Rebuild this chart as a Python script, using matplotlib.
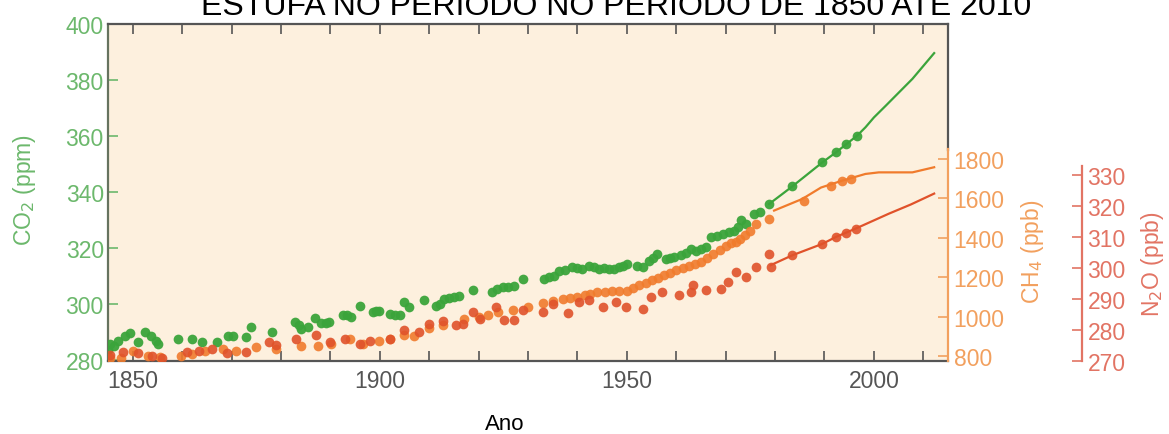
import numpy as np
import matplotlib.pyplot as plt
from matplotlib.ticker import MultipleLocator, FixedLocator

# CO2 (ppm) - early dots
co2_dot_year = [1845.0, 1845.5, 1846.2, 1847.0, 1848.4, 1849.4, 1851.1, 1852.4, 1853.8, 1854.8,
                1855.1, 1859.2, 1862.0, 1864.0, 1867.1, 1869.3, 1870.3, 1873.0, 1874.0, 1878.2,
                1882.9, 1883.6, 1884.1, 1885.4, 1886.9, 1888.2, 1889.2, 1889.8, 1892.5, 1893.3,
                1894.2, 1896.0, 1898.6, 1899.2, 1899.9, 1902.0, 1903.0, 1904.0, 1905.0, 1906.0,
                1909.0, 1911.4, 1912.2, 1913.1, 1914.1, 1915.1, 1916.1, 1918.8, 1922.8, 1923.8,
                1924.9, 1926.0, 1927.2, 1928.9, 1933.3, 1934.3, 1935.3, 1936.3, 1937.5, 1939.0,
                1940.0, 1941.0, 1942.4, 1943.4, 1944.4, 1945.4, 1946.4, 1947.4, 1948.5, 1949.3,
                1950.1, 1952.0, 1953.2, 1954.5, 1955.3, 1956.2, 1957.9, 1958.7, 1959.6, 1960.9,
                1961.9, 1963.0, 1964.0, 1965.0, 1966.0, 1967.0, 1968.2, 1969.4, 1970.7, 1971.7,
                1972.5, 1973.1, 1974.1, 1975.8, 1977.0, 1978.8, 1983.5, 1989.6, 1992.3, 1994.3,
                1996.6]
co2_dot_val = [283.5, 285.7, 285.0, 286.9, 288.7, 289.6, 286.3, 290.1, 288.4, 286.9,
               285.5, 287.5, 287.5, 286.5, 286.3, 288.7, 288.4, 288.1, 291.7, 290.1,
               293.4, 292.4, 291.1, 291.7, 294.9, 293.0, 293.2, 293.5, 296.1, 296.0,
               295.2, 299.2, 297.0, 297.3, 297.6, 296.4, 296.2, 296.1, 300.6, 298.8,
               301.5, 299.4, 300.0, 301.8, 302.0, 302.3, 302.7, 304.8, 304.4, 305.2,
               305.9, 306.1, 306.3, 308.9, 308.9, 309.5, 310.1, 311.9, 312.2, 313.1,
               312.8, 312.5, 313.7, 313.2, 312.5, 312.9, 312.5, 312.6, 313.1, 313.5,
               314.3, 313.5, 313.1, 315.5, 316.5, 317.9, 316.1, 316.5, 316.7, 317.3,
               318.3, 319.6, 319.0, 319.6, 320.2, 323.8, 324.3, 325.0, 325.6, 326.2,
               327.5, 330.1, 328.6, 332.1, 333.0, 335.7, 342.0, 350.6, 354.1, 357.1,
               360.1]
# CO2 continuous record
co2_line_year = [1978.8, 1981.5, 1983.5, 1986.2, 1989.6, 1992.3, 1996.6, 1998.3, 2000.0,
                 2002.4, 2005.1, 2007.8, 2012.2]
co2_line_val = [335.7, 339.3, 342.0, 345.8, 350.6, 354.1, 360.1, 363.1, 366.6,
                370.8, 375.6, 380.4, 389.6]

# CH4 (ppb)
ch4_dot_year = [1845.5, 1847.7, 1850.1, 1853.1, 1855.5, 1859.8, 1862.0, 1864.6, 1868.3, 1871.0,
                1875.0, 1879.1, 1884.1, 1887.5, 1890.2, 1893.9, 1896.6, 1899.9, 1902.0, 1905.0,
                1907.0, 1910.0, 1912.7, 1917.0, 1920.0, 1922.0, 1924.0, 1927.0, 1930.0, 1933.0,
                1935.0, 1937.0, 1938.5, 1940.0, 1941.5, 1942.5, 1944.0, 1945.5, 1947.0, 1948.5,
                1950.0, 1951.3, 1952.5, 1953.8, 1955.0, 1956.3, 1957.5, 1958.8, 1960.0, 1961.3,
                1962.5, 1963.8, 1965.0, 1966.3, 1967.5, 1968.8, 1970.0, 1971.0, 1972.0, 1973.0,
                1974.0, 1975.0, 1976.1, 1978.8, 1985.9, 1991.3, 1993.6, 1995.3]
ch4_dot_val = [790, 788, 827, 802, 793, 802, 810, 827, 836, 827,
               844, 836, 852, 852, 861, 886, 861, 878, 886, 905,
               900, 940, 955, 988, 1000, 1010, 1022, 1035, 1049, 1068,
               1078, 1089, 1095, 1100, 1108, 1113, 1125, 1127, 1128, 1130,
               1131, 1145, 1160, 1172, 1186, 1198, 1210, 1222, 1236, 1245,
               1255, 1266, 1277, 1298, 1320, 1340, 1360, 1372, 1380, 1394,
               1415, 1436, 1470, 1495, 1588, 1664, 1690, 1698]
ch4_line_year = [1979.8, 1985.5, 1989.3, 1993.6, 1998.3, 2001.0, 2004.0, 2007.8, 2012.2]
ch4_line_val = [1538, 1597, 1655, 1690, 1724, 1732, 1732, 1732, 1758]

# N2O (ppb)
n2o_dot_year = [1845.5, 1848.0, 1851.0, 1854.0, 1856.0, 1861.0, 1863.5, 1866.0, 1869.0, 1873.0,
                1877.5, 1879.0, 1883.0, 1887.1, 1890.0, 1893.0, 1896.0, 1898.0, 1902.0, 1905.0,
                1908.0, 1910.0, 1912.7, 1915.4, 1916.8, 1918.8, 1920.2, 1923.5, 1925.2, 1927.2,
                1928.9, 1933.0, 1935.0, 1938.0, 1940.4, 1942.4, 1945.1, 1947.8, 1949.8, 1953.2,
                1954.9, 1957.2, 1960.6, 1963.0, 1963.3, 1966.0, 1969.0, 1970.4, 1972.1, 1974.1,
                1976.1, 1978.8, 1979.1, 1983.5, 1989.6, 1992.3, 1994.3, 1996.3]
n2o_dot_val = [272.0, 273.0, 272.5, 271.5, 271.0, 273.0, 273.2, 274.0, 272.5, 273.0,
               276.0, 275.0, 277.0, 278.3, 276.0, 277.0, 275.5, 276.5, 277.0, 279.9,
               279.5, 282.0, 282.9, 281.5, 282.0, 285.8, 283.6, 287.4, 283.1, 283.1,
               286.4, 285.8, 288.5, 285.5, 289.0, 289.6, 287.4, 289.0, 287.4, 286.9,
               290.6, 292.3, 291.2, 292.3, 294.4, 292.8, 293.3, 295.5, 298.7, 297.1,
               300.3, 304.6, 300.3, 304.1, 307.8, 310.0, 311.3, 312.7]
n2o_line_year = [1979.1, 1983.5, 1989.6, 1992.3, 1996.3, 2003.0, 2007.5, 2012.2]
n2o_line_val = [300.9, 304.1, 307.8, 310.0, 312.7, 317.5, 320.5, 324.0]

green = '#3ba43b'
orange = '#f07b2c'
red = '#e0522a'
lab_green = '#6cb86c'
lab_orange = '#f2a05e'
lab_red = '#e27464'
bg = '#fdf0de'
dark = '#555555'

plt.rcParams['font.family'] = ['Liberation Sans', 'DejaVu Sans']

W, H = 1169, 435
fig = plt.figure(figsize=(W / 100, H / 100), dpi=100)
L, R, T, B = 108, 948, 25, 362
ax = fig.add_axes([L / W, 1 - B / H, (R - L) / W, (B - T) / H])
ax.set_facecolor(bg)

ax2 = ax.twinx()
ax3 = ax.twinx()

ms = 7
ax2.plot(ch4_line_year, ch4_line_val, color=orange, lw=1.6, zorder=2)
ax2.plot(ch4_dot_year, ch4_dot_val, 'o', color=orange, ms=ms, mec='none', alpha=0.9, zorder=3)
ax3.plot(n2o_line_year, n2o_line_val, color=red, lw=1.6, zorder=2)
ax3.plot(n2o_dot_year, n2o_dot_val, 'o', color=red, ms=ms, mec='none', alpha=0.9, zorder=3)
ax.plot(co2_line_year, co2_line_val, color=green, lw=1.6, zorder=2)
ax.plot(co2_dot_year, co2_dot_val, 'o', color=green, ms=ms, mec='none', alpha=0.95, zorder=3)

# main axis (CO2, years)
ax.set_xlim(1845, 2015)
ax.set_ylim(279.6, 400)
ax.xaxis.set_major_locator(FixedLocator([1850, 1900, 1950, 2000]))
ax.xaxis.set_minor_locator(MultipleLocator(10))
ax.yaxis.set_major_locator(MultipleLocator(20))
ax.tick_params(axis='x', which='both', direction='in', top=True, length=7, width=1.2,
               color=dark, labelsize=16.5, labelcolor='#555555', pad=6)
ax.tick_params(axis='y', which='both', direction='in', length=7, width=1.2,
               color=lab_green, labelsize=16.5, labelcolor=lab_green, pad=3)
for s in ['top', 'bottom']:
    ax.spines[s].set_color(dark)
    ax.spines[s].set_linewidth(1.6)
ax.spines['left'].set_color('#66735f')
ax.spines['left'].set_linewidth(1.6)
ax.spines['right'].set_color(dark)
ax.spines['right'].set_linewidth(1.6)
ax.spines['right'].set_bounds(355, 400)

# CH4 axis
ax2.set_ylim(774.6, 2485)
ax2.yaxis.set_major_locator(FixedLocator([800, 1000, 1200, 1400, 1600, 1800]))
ax2.tick_params(axis='y', direction='in', length=7, width=1.2, color=lab_orange,
                labelsize=16.5, labelcolor=lab_orange, pad=4)
for s in ['top', 'bottom', 'left']:
    ax2.spines[s].set_visible(False)
ax2.spines['right'].set_color(lab_orange)
ax2.spines['right'].set_linewidth(1.6)
ax2.spines['right'].set_bounds(774.6, 1850)

# N2O axis
ax3.set_ylim(270, 378.7)
ax3.yaxis.set_major_locator(FixedLocator([270, 280, 290, 300, 310, 320, 330]))
ax3.spines['right'].set_position(('axes', 1 + 134 / (R - L)))
ax3.tick_params(axis='y', direction='in', length=7, width=1.2, color=lab_red,
                labelsize=16.5, labelcolor=lab_red, pad=4)
for s in ['top', 'bottom', 'left']:
    ax3.spines[s].set_visible(False)
ax3.spines['right'].set_color(lab_red)
ax3.spines['right'].set_linewidth(1.6)
ax3.spines['right'].set_bounds(270, 333)

# axis titles
fig.text(25 / W, 1 - 190 / H, 'CO$_2$ (ppm)', rotation=90, ha='center', va='center',
         fontsize=16.5, color=lab_green)
fig.text(1033 / W, 1 - 252 / H, 'CH$_4$ (ppb)', rotation=90, ha='center', va='center',
         fontsize=16.5, color=lab_orange)
fig.text(1153 / W, 1 - 264 / H, 'N$_2$O (ppb)', rotation=90, ha='center', va='center',
         fontsize=16.5, color=lab_red)
fig.text(505 / W, 1 - 425 / H, 'Ano', ha='center', va='center', fontsize=16, color='black')

# title, cut at the top edge as in the source
fig.text(616 / W, 1 - 15 / H, 'ESTUFA NO PERÍODO NO PERÍODO DE 1850 ATÉ 2010',
         ha='center', va='baseline', fontsize=23, color='black')

fig.savefig('out.png', dpi=100, facecolor='white')
